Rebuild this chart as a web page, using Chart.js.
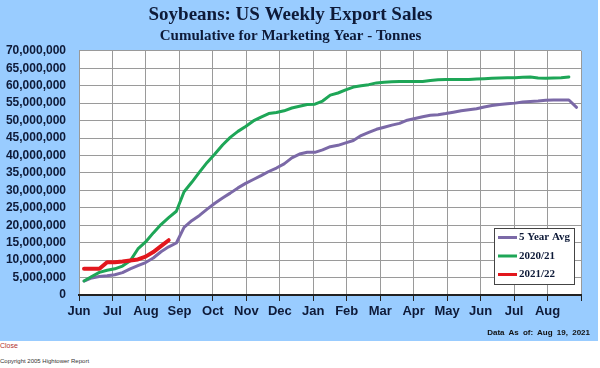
<!DOCTYPE html>
<html>
<head>
<meta charset="utf-8">
<script src="https://cdn.jsdelivr.net/npm/chart.js@4.4.1/dist/chart.umd.min.js"></script>
<style>
  body { margin: 0; background: #fff; font-family: "Liberation Sans", Arial, sans-serif; }
  #wrap { position: relative; width: 598px; height: 341px; background: #99ccff; }
  #asof { position: absolute; right: 8px; top: 328px; font: bold 8px "Liberation Sans", Arial, sans-serif; color: #111; word-spacing: 2px; }
  #close { position: absolute; left: 0; top: 341px; font-size: 7px; line-height: 10px; color: #b03030; }
  #copy { position: absolute; left: 0; top: 357px; font-size: 6px; line-height: 9px; color: #333; }
</style>
</head>
<body>
<div id="wrap">
  <canvas id="chart"></canvas>
  <div id="asof">Data As of: Aug 19, 2021</div>
</div>
<div id="close">Close</div>
<div id="copy">Copyright 2005 Hightower Report</div>
<script>
// months on the x axis, starting Jun 1 of the earlier year
const monthLabels = ['Jun', 'Jul', 'Aug', 'Sep', 'Oct', 'Nov', 'Dec', 'Jan', 'Feb', 'Mar', 'Apr', 'May', 'Jun', 'Jul', 'Aug'];

// weekly cumulative sales, million tonnes
const avg5yr = [4.0, 4.9, 5.3, 5.5, 5.8, 6.4, 7.5, 8.4, 9.3, 10.6, 12.4, 13.8, 14.9,
  19.4, 21.3, 22.8, 24.6, 26.3, 27.8, 29.2, 30.7, 32.0, 33.1, 34.2, 35.4, 36.4, 37.6,
  39.3, 40.4, 40.9, 40.9, 41.6, 42.5, 42.9, 43.6, 44.3, 45.7, 46.6, 47.5, 48.1, 48.7,
  49.2, 50.1, 50.6, 51.1, 51.5, 51.7, 52.0, 52.4, 52.8, 53.1, 53.4, 53.9, 54.3, 54.6,
  54.8, 55.0, 55.3, 55.5, 55.6, 55.8, 55.9, 55.9, 55.9, 53.8];
const my2021 = [4.0, 5.3, 6.5, 7.1, 7.5, 8.3, 9.8, 13.2, 15.2, 17.8, 20.2, 22.2, 24.0,
  29.6, 32.3, 35.2, 38.0, 40.4, 43.0, 45.2, 46.9, 48.3, 49.9, 51.0, 52.0, 52.3, 52.8,
  53.6, 54.1, 54.6, 54.7, 55.6, 57.3, 57.9, 58.8, 59.6, 60.0, 60.3, 60.8, 61.0, 61.1,
  61.2, 61.2, 61.2, 61.2, 61.5, 61.7, 61.8, 61.8, 61.8, 61.8, 61.9, 62.0, 62.1, 62.2,
  62.3, 62.3, 62.4, 62.5, 62.2, 62.1, 62.2, 62.3, 62.5];
const my2122 = [7.5, 7.5, 7.5, 9.4, 9.4, 9.6, 9.9, 10.2, 11.0, 12.3, 14.0, 15.7];

const firstWeek = 0.15;        // first report, in months after Jun 1
const weekStep = 7 / 30.44;    // one week in months

const toPoints = arr => arr.map((v, i) => ({ x: firstWeek + i * weekStep, y: v }));

const navy = '#0e1a38';

const plotBg = {
  id: 'plotBg',
  beforeDraw(chart) {
    const { ctx, chartArea: a } = chart;
    ctx.save();
    ctx.fillStyle = '#fff';
    ctx.fillRect(a.left, a.top, a.width, a.height);
    ctx.restore();
  }
};

// legend box sitting inside the plot, lower right
const legendBox = {
  id: 'legendBox',
  afterDraw(chart) {
    const { ctx, chartArea: a } = chart;
    const w = 80, h = 56;
    const x = a.right - 87, y = a.bottom - 67;
    ctx.save();
    ctx.fillStyle = '#fff';
    ctx.fillRect(x, y, w, h);
    ctx.strokeStyle = '#444';
    ctx.lineWidth = 1;
    ctx.strokeRect(x + 0.5, y + 0.5, w, h);
    ctx.font = 'bold 11px "Liberation Serif", serif';
    ctx.textBaseline = 'middle';
    chart.data.datasets.forEach((ds, i) => {
      const ly = y + 9.5 + i * 18.5;
      ctx.strokeStyle = ds.borderColor;
      ctx.lineWidth = 3;
      ctx.beginPath();
      ctx.moveTo(x + 4, ly);
      ctx.lineTo(x + 23, ly);
      ctx.stroke();
      ctx.fillStyle = navy;
      ctx.fillText(ds.label, x + 25, ly);
    });
    ctx.restore();
  }
};

new Chart(document.getElementById('chart'), {
  type: 'line',
  data: {
    datasets: [
      { label: '5 Year Avg', data: toPoints(avg5yr), borderColor: '#7b69a7', borderWidth: 3, order: 2 },
      { label: '2020/21', data: toPoints(my2021), borderColor: '#1ea657', borderWidth: 3, order: 1 },
      { label: '2021/22', data: toPoints(my2122), borderColor: '#e2171d', borderWidth: 4, order: 0 }
    ]
  },
  options: {
    responsive: true,
    maintainAspectRatio: false,
    animation: false,
    layout: { padding: { left: 0, right: 17, top: 0, bottom: 0 } },
    elements: {
      point: { radius: 0 },
      line: { tension: 0, borderJoinStyle: 'round', borderCapStyle: 'round' }
    },
    plugins: {
      legend: { display: false },
      tooltip: { enabled: false },
      title: {
        display: true,
        text: 'Soybeans: US Weekly Export Sales',
        color: navy,
        font: { family: '"Liberation Serif", serif', size: 19, weight: 'bold', lineHeight: 1.2 },
        padding: { top: 4, bottom: 0 }
      },
      subtitle: {
        display: true,
        text: 'Cumulative for Marketing Year - Tonnes',
        color: navy,
        font: { family: '"Liberation Serif", serif', size: 15, weight: 'bold', lineHeight: 1.2 },
        padding: { top: 0, bottom: 6 }
      }
    },
    scales: {
      x: {
        type: 'linear',
        min: 0,
        max: 15,
        ticks: {
          stepSize: 1,
          autoSkip: false,
          maxRotation: 0,
          padding: 3,
          color: navy,
          font: { family: '"Liberation Sans", sans-serif', size: 13, weight: 'bold' },
          callback: v => monthLabels[v] ?? ''
        },
        grid: { color: '#9a9a9a', tickColor: '#222', tickLength: 6 },
        border: { color: '#222', width: 2 },
        afterFit(s) { s.height = 46; }
      },
      y: {
        min: 0,
        max: 70,
        ticks: {
          stepSize: 5,
          padding: 13,
          color: navy,
          font: { family: '"Liberation Sans", sans-serif', size: 12, weight: 'bold' },
          callback: v => (v * 1e6).toLocaleString('en-US')
        },
        grid: { color: '#9a9a9a', drawTicks: false },
        border: { display: false },
        afterFit(s) { s.width = 79; }
      }
    }
  },
  plugins: [plotBg, legendBox]
});
</script>
</body>
</html>
